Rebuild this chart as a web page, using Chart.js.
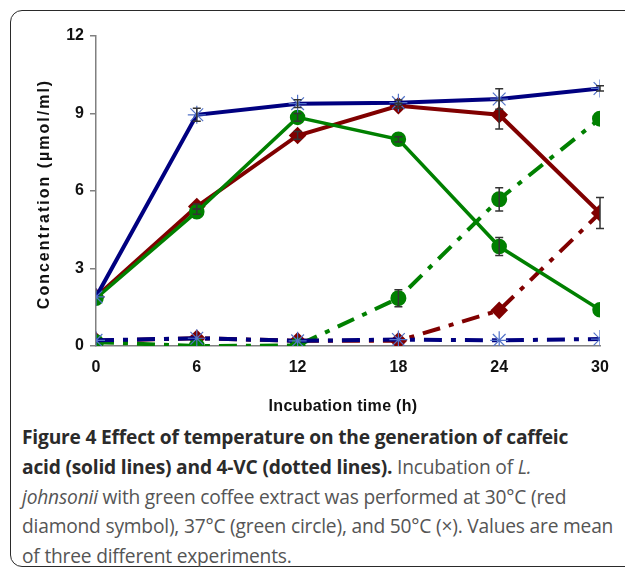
<!DOCTYPE html>
<html>
<head>
<meta charset="utf-8">
<script src="https://cdn.jsdelivr.net/npm/chart.js@4.4.0/dist/chart.umd.min.js"></script>
<style>
    body { margin: 0; background: #fff; width: 625px; height: 567px; overflow: hidden; position: relative; }
    #frame { position: absolute; left: 10px; top: 10px; width: 650px; height: 555px; border: 1.5px solid #2a2a2a; border-radius: 12px; }
    #chart { position: absolute; left: 0; top: 0; }
    #caption { position: absolute; left: 22px; top: 422px; width: 610px; font-family: "Open Sans", sans-serif; font-size: 19.2px; line-height: 29.8px; color: #555; letter-spacing: -0.2px; }
    #caption b { color: #2b2b2b; font-weight: 700; }
</style>
</head>
<body>
<div id="frame"></div>
<canvas id="chart" width="625" height="420"></canvas>
<div id="caption">
    <b>Figure 4 Effect of temperature on the generation of caffeic<br>acid (solid lines) and 4-VC (dotted lines).</b> Incubation of <i>L.</i><br><i>johnsonii</i> with green coffee extract was performed at 30°C (red<br>diamond symbol), 37°C (green circle), and 50°C (×). Values are mean<br>of three different experiments.
</div>
<script>
// Incubation time (h)
const hours = [0, 6, 12, 18, 24, 30];
const yTicks = [0, 3, 6, 9, 12];

// caffeic acid (solid lines)
const caffeic30 = [1.9, 5.4, 8.15, 9.3, 8.95, 5.15];
const caffeic37 = [1.85, 5.2, 8.85, 8.0, 3.85, 1.4];
const caffeic50 = [1.9, 8.95, 9.38, 9.42, 9.56, 9.97];
// 4-VC (dotted lines)
const vc30 = [0.2, 0.3, 0.2, 0.2, 1.38, 5.15];
const vc37 = [0.15, 0.0, 0.02, 1.85, 5.68, 8.8];
const vc50 = [0.22, 0.3, 0.2, 0.25, 0.22, 0.27];

// error (+/-)
const errCaffeic30 = [0, 0.1, 0.15, 0.1, 0.55, 0.6];
const errCaffeic37 = [0, 0.1, 0.15, 0.1, 0.35, 0];
const errCaffeic50 = [0, 0.25, 0.15, 0.1, 0.4, 0.1];
const errVc37 = [0, 0, 0, 0.33, 0.45, 0];

const RED = '#800000', GREEN = '#008000', BLUE = '#000080', STAR = '#5272c8';
const DASH = [18, 9, 5, 9];
const FONT = '"Liberation Sans", Arial, sans-serif';

function pts(values) {
    return hours.map((h, i) => ({ x: h, y: values[i] }));
}

// draw vertical error bars from the scales
const errorBars = {
    id: 'errorBars',
    afterDatasetsDraw(chart) {
        const ctx = chart.ctx;
        const xs = chart.scales.x, ys = chart.scales.y;
        ctx.save();
        ctx.strokeStyle = '#333';
        ctx.lineWidth = 1.5;
        chart.data.datasets.forEach(ds => {
            if (!ds.errors) return;
            ds.data.forEach((p, i) => {
                const e = ds.errors[i];
                if (!e) return;
                const x = xs.getPixelForValue(p.x);
                const y1 = ys.getPixelForValue(p.y + e);
                const y2 = ys.getPixelForValue(p.y - e);
                ctx.beginPath();
                ctx.moveTo(x, y1); ctx.lineTo(x, y2);
                ctx.moveTo(x - 4, y1); ctx.lineTo(x + 4, y1);
                ctx.moveTo(x - 4, y2); ctx.lineTo(x + 4, y2);
                ctx.stroke();
            });
        });
        ctx.restore();
    }
};

// axis titles with letter spacing
const axisTitles = {
    id: 'axisTitles',
    afterDraw(chart) {
        const ctx = chart.ctx;
        ctx.save();
        ctx.fillStyle = '#111';
        ctx.textAlign = 'center';
        ctx.textBaseline = 'middle';
        ctx.font = 'bold 16px ' + FONT;
        ctx.letterSpacing = '2px';
        ctx.translate(45, 194);
        ctx.rotate(-Math.PI / 2);
        ctx.fillText('Concentration (µmol/ml)', 0, 0);
        ctx.restore();

        ctx.save();
        ctx.fillStyle = '#111';
        ctx.textAlign = 'center';
        ctx.textBaseline = 'middle';
        ctx.font = 'bold 16px ' + FONT;
        ctx.letterSpacing = '0.3px';
        ctx.fillText('Incubation time (h)', 343, 407);
        ctx.restore();
    }
};

// first dataset ends up on top
new Chart(document.getElementById('chart'), {
    type: 'line',
    data: {
        datasets: [
            { label: 'Caffeic 50°C', data: pts(caffeic50), errors: errCaffeic50, borderColor: BLUE, backgroundColor: STAR, borderWidth: 4, pointStyle: 'star', pointRadius: 9, pointBorderColor: STAR, pointBorderWidth: 1.2 },
            { label: 'Caffeic 37°C', data: pts(caffeic37), errors: errCaffeic37, borderColor: GREEN, backgroundColor: GREEN, borderWidth: 3.5, pointStyle: 'circle', pointRadius: 6 },
            { label: 'Caffeic 30°C', data: pts(caffeic30), errors: errCaffeic30, borderColor: RED, backgroundColor: RED, borderWidth: 4, pointStyle: 'rectRot', pointRadius: 6 },
            { label: '4-VC 50°C', data: pts(vc50), borderColor: BLUE, backgroundColor: STAR, borderWidth: 4, borderDash: DASH, pointStyle: 'star', pointRadius: 9, pointBorderColor: STAR, pointBorderWidth: 1.2 },
            { label: '4-VC 37°C', data: pts(vc37), errors: errVc37, borderColor: GREEN, backgroundColor: GREEN, borderWidth: 4, borderDash: DASH, pointStyle: 'circle', pointRadius: 6 },
            { label: '4-VC 30°C', data: pts(vc30), borderColor: RED, backgroundColor: RED, borderWidth: 4, borderDash: DASH, pointStyle: 'rectRot', pointRadius: 6 }
        ]
    },
    options: {
        responsive: false,
        animation: false,
        devicePixelRatio: 1,
        layout: { padding: { top: 36, right: 25, left: 0, bottom: 0 } },
        plugins: { legend: { display: false }, tooltip: { enabled: false } },
        scales: {
            x: {
                type: 'linear', min: 0, max: 30,
                afterFit: s => { s.height = 74; },
                afterBuildTicks: s => { s.ticks = hours.map(v => ({ value: v })); },
                grid: { display: true, drawOnChartArea: false, drawTicks: false },
                border: { color: '#808080', width: 1.5 },
                ticks: { padding: 12, color: '#111', font: { family: FONT, size: 16, weight: 'bold' } }
            },
            y: {
                min: 0, max: 12,
                afterFit: s => { s.width = 96; },
                afterBuildTicks: s => { s.ticks = yTicks.map(v => ({ value: v })); },
                grid: { display: true, drawOnChartArea: false, drawTicks: true, tickLength: 6, color: '#808080', lineWidth: 1.5 },
                border: { color: '#808080', width: 1.5 },
                ticks: { padding: 6, color: '#111', font: { family: FONT, size: 16, weight: 'bold' } }
            }
        }
    },
    plugins: [errorBars, axisTitles]
});
</script>
</body>
</html>
